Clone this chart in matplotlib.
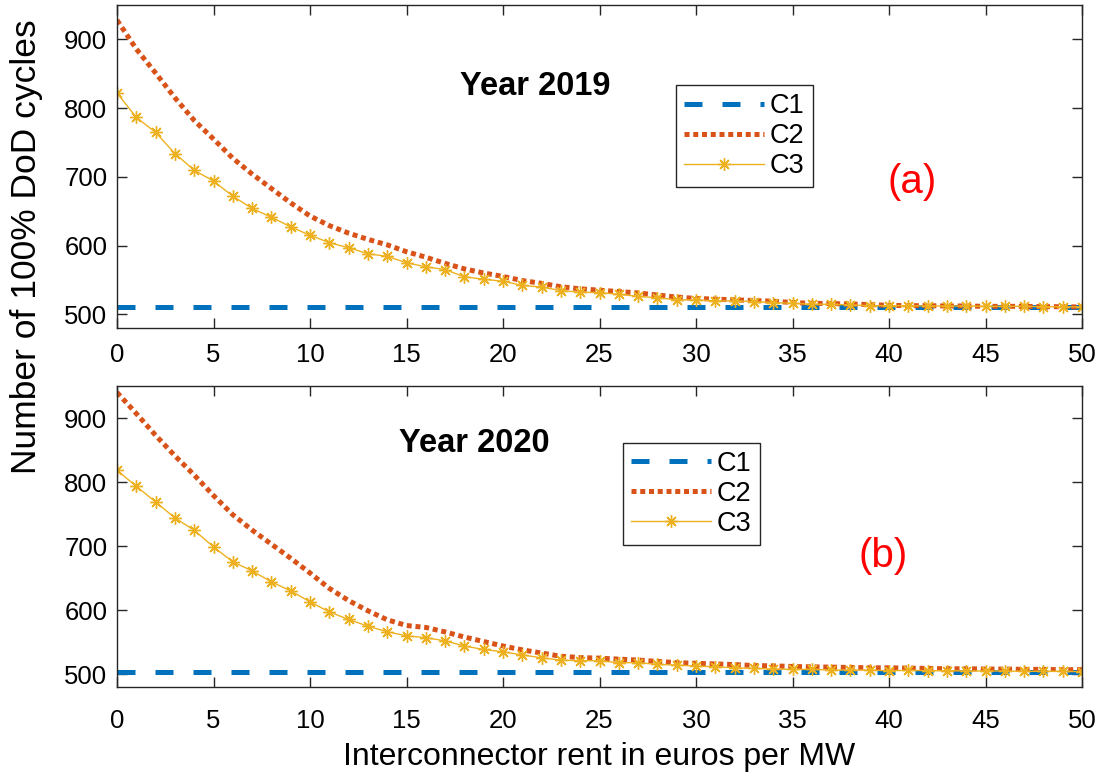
import matplotlib
matplotlib.use('Agg')
import matplotlib.pyplot as plt
import numpy as np

plt.rcParams['font.family'] = ['Liberation Sans', 'DejaVu Sans']

# Interconnector rent (euros per MW)
rent = np.arange(0, 51)

# Year 2019
c1_2019 = np.full(rent.shape, 510.0)
c2_2019 = [928, 886, 851, 815, 782, 755, 727, 704, 683, 662,
           643, 629, 618, 609, 601, 591, 583, 574, 566, 560,
           555, 549, 545, 540, 537, 535, 533, 531, 528, 525,
           523, 522, 521, 520, 519, 517, 516, 515.5, 515, 514,
           513, 512.5, 512.5, 512, 512, 511.5, 511.5, 511.5, 511, 511, 510.5]
c3_2019 = [822, 786.5, 764.6, 733.9, 709.5, 693.9, 671.9, 653.9, 641.2, 627.2,
           614.9, 604.2, 596.8, 588.1, 584.2, 575, 569, 565, 554.5, 551,
           548, 542, 539.5, 534.5, 532, 531.5, 529, 526, 524, 521,
           521, 519.5, 519.5, 518.5, 517, 516, 514.5, 514.5, 513.5, 512.5,
           512.5, 512.5, 512, 512, 512, 511.5, 511.5, 511.5, 511, 511, 510.5]

# Year 2020
c1_2020 = np.full(rent.shape, 503.0)
c2_2020 = [940, 907, 873, 841, 811, 779, 749, 725, 703, 681,
           658, 634, 615, 599, 585, 576, 573, 566, 558, 551,
           544, 538, 533, 528, 526, 525, 523.5, 522, 520, 518,
           517, 516, 515, 513.5, 513, 512, 511.5, 511, 510.5, 510,
           510, 509.5, 509, 508.5, 508.5, 508, 508, 507.5, 507.5, 507, 507]
c3_2020 = [818.4, 793.4, 769, 744, 724.8, 698.8, 675.4, 661.3, 644.2, 630.1,
           613, 597.3, 585.5, 575, 566.2, 559.9, 557, 552, 544, 538.6,
           535, 530, 525.6, 522, 521, 521, 518, 518, 515.3, 514.2,
           512.6, 511.6, 510, 509, 508, 507.5, 507.5, 506.4, 506.4, 506.4,
           505.4, 506, 505.5, 505.5, 505, 505, 505, 504.5, 504.5, 504.5, 504]

series_names = ['C1', 'C2', 'C3']
xticks = np.arange(0, 51, 5)
yticks = np.arange(500, 901, 100)

blue = '#0072BD'
orange = '#D95319'
yellow = '#EDB120'
axcol = '#262626'

fig = plt.figure(figsize=(11.02, 7.75), dpi=100)
W, H = 1102, 775
ax1 = fig.add_axes([117 / W, 1 - 328 / H, 965 / W, 323 / H])
ax2 = fig.add_axes([117 / W, 1 - 687 / H, 965 / W, 301 / H])

asterisk = (8, 2, 0)


def draw_panel(ax, c1, c2, c3, xpad):
    ax.plot(rent, c1, color=blue, lw=3.6, linestyle=(0, (3.6, 4.0)),
            label=series_names[0])
    ax.plot(rent, c2, color=orange, lw=3.6, linestyle=(0, (1.0, 0.75)),
            label=series_names[1])
    ax.plot(rent, c3, color=yellow, lw=1.0, marker=asterisk, markersize=9,
            markeredgewidth=1.0, label=series_names[2])
    ax.set_xlim(0, 50)
    ax.set_ylim(480, 950)
    ax.set_xticks(xticks)
    ax.set_yticks(yticks)
    ax.tick_params(direction='in', length=7, width=1, colors=axcol,
                   labelsize=18.5, top=True, right=True)
    ax.tick_params(axis='x', labelcolor='black', pad=xpad)
    ax.tick_params(axis='y', labelcolor='black', pad=7)
    for s in ax.spines.values():
        s.set_color(axcol)
        s.set_linewidth(1.0)


draw_panel(ax1, c1_2019, c2_2019, c3_2019, 11)
draw_panel(ax2, c1_2020, c2_2020, c3_2020, 16)

ax1.text(21.66, 832, 'Year 2019', ha='center', va='center',
         fontsize=23.5, weight='bold')
ax1.text(41.2, 692, '(a)', ha='center', va='center', fontsize=29, color='red')
ax2.text(18.5, 860, 'Year 2020', ha='center', va='center',
         fontsize=23.5, weight='bold')
ax2.text(39.7, 684, '(b)', ha='center', va='center', fontsize=29, color='red')

for ax, anchor in ((ax1, (0.579, 0.752)), (ax2, (0.524, 0.812))):
    leg = ax.legend(loc='upper left', bbox_to_anchor=anchor, fontsize=19.5,
                    handlelength=2.96, handletextpad=0.22, labelspacing=0.15,
                    borderpad=0.3, borderaxespad=0, fancybox=False,
                    edgecolor=axcol, framealpha=1)
    leg.get_frame().set_linewidth(1.0)

ax2.set_xlabel('Interconnector rent in euros per MW', fontsize=23, labelpad=6)
fig.text(27 / W, 1 - 247 / H, 'Number of 100% DoD cycles', rotation=90,
         ha='center', va='center', fontsize=25.5)

fig.savefig('out.png', dpi=100, facecolor='white')
